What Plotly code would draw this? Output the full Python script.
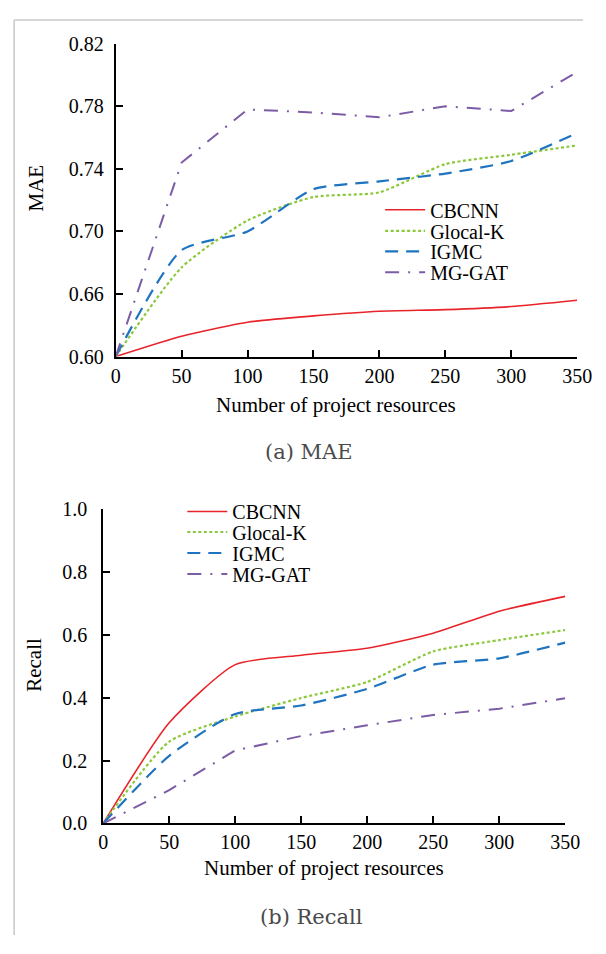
import plotly.graph_objects as go

W, H = 590, 938

# ---------------- data ----------------
x_res = [0, 50, 100, 150, 200, 250, 300, 350]
series_names = ["CBCNN", "Glocal-K", "IGMC", "MG-GAT"]

# (a) MAE  (plotted on a linear scale whose bottom tick is labelled 0.60)
mae_cbcnn = [0.620, 0.633, 0.642, 0.646, 0.649, 0.650, 0.652, 0.656]
mae_glocal = [0.620, 0.677, 0.707, 0.722, 0.725, 0.743, 0.749, 0.755]
mae_igmc = [0.620, 0.688, 0.700, 0.727, 0.732, 0.737, 0.745, 0.763]
mae_mggat = [0.620, 0.744, 0.778, 0.776, 0.773, 0.780, 0.777, 0.802]

mae_tickvals = [0.62, 0.66, 0.70, 0.74, 0.78, 0.82]
mae_ticktext = ["0.60", "0.66", "0.70", "0.74", "0.78", "0.82"]

# (b) Recall
rec_cbcnn = [0.0, 0.32, 0.505, 0.535, 0.557, 0.605, 0.675, 0.722]
rec_glocal = [0.0, 0.26, 0.340, 0.399, 0.450, 0.547, 0.583, 0.615]
rec_igmc = [0.0, 0.215, 0.348, 0.375, 0.428, 0.505, 0.525, 0.575]
rec_mggat = [0.0, 0.106, 0.232, 0.278, 0.312, 0.345, 0.365, 0.398]

rec_tickvals = [0.0, 0.2, 0.4, 0.6, 0.8, 1.0]
rec_ticktext = ["0.0", "0.2", "0.4", "0.6", "0.8", "1.0"]

x_tickvals = [0, 50, 100, 150, 200, 250, 300, 350]

x_title = "Number of project resources"
captions = ["(a) MAE", "(b) Recall"]

# ---------------- styles ----------------
colors = ["#e8242a", "#8cc83c", "#1f74c0", "#7d5ca6"]
dashes = ["solid", "3px,2.5px", "13px,8px", "14px,9px,2px,9px"]
widths = [1.6, 2.2, 2.2, 2.0]
shapes_line = ["spline", "spline", "spline", "linear"]

SERIF = "Liberation Serif"


# map a target screen pixel to figure paper coordinates
def fx(p):
    return ((p - 5.5) / 0.967 - 8) / W


def fy(p):
    return 1 - ((p - 11.5) / 0.976 - 8) / H


fig = go.Figure()

mae_data = [mae_cbcnn, mae_glocal, mae_igmc, mae_mggat]
rec_data = [rec_cbcnn, rec_glocal, rec_igmc, rec_mggat]

legend_rows_top = [210, 231, 251.5, 272.5]
legend_rows_bot = [511.5, 532, 553, 574]

for i, name in enumerate(series_names):
    fig.add_trace(go.Scatter(
        x=x_res, y=mae_data[i], mode="lines", name=name,
        line=dict(color=colors[i], dash=dashes[i], width=widths[i],
                  shape=shapes_line[i], smoothing=0.6),
        xaxis="x", yaxis="y", legend="legend" if i == 0 else f"legend{i + 1}",
        showlegend=True))

for i, name in enumerate(series_names):
    fig.add_trace(go.Scatter(
        x=x_res, y=rec_data[i], mode="lines", name=name,
        line=dict(color=colors[i], dash=dashes[i], width=widths[i],
                  shape=shapes_line[i], smoothing=0.6),
        xaxis="x2", yaxis="y2", legend=f"legend{i + 5}", showlegend=True))

axis_common = dict(
    showgrid=False, zeroline=False, showline=True, linecolor="black",
    linewidth=2, ticks="inside", ticklen=7, tickwidth=2, tickcolor="black",
    tickfont=dict(family=SERIF, size=20, color="black"),
    mirror=False,
)

LEG_TEXT_OFF = 52 * 0.967  # screen px between legend box left and text


def legend_cfg(text_left, row):
    return dict(x=fx(text_left - LEG_TEXT_OFF), y=fy(row), xanchor="left",
                yanchor="middle", bgcolor="rgba(0,0,0,0)",
                font=dict(family=SERIF, size=20, color="black"),
                itemwidth=40, tracegroupgap=0)


legends = {}
for i in range(4):
    key = "legend" if i == 0 else f"legend{i + 1}"
    legends[key] = legend_cfg(431, legend_rows_top[i])
    legends[f"legend{i + 5}"] = legend_cfg(233, legend_rows_bot[i])

title_font = dict(family=SERIF, size=21, color="black")
cap_font = dict(family="DejaVu Serif", size=21, color="#4a4a4a")

fig.update_layout(
    width=W, height=H,
    margin=dict(l=0, r=0, t=0, b=0),
    paper_bgcolor="white", plot_bgcolor="white",
    font=dict(family=SERIF, color="black"),
    xaxis=dict(axis_common, domain=[fx(116), fx(578)], range=[0, 350],
               tickvals=x_tickvals, anchor="y"),
    yaxis=dict(axis_common, domain=[fy(356.7), fy(44)], range=[0.62, 0.82],
               tickvals=mae_tickvals, ticktext=mae_ticktext, anchor="x",
               ticklabelstandoff=6),
    xaxis2=dict(axis_common, domain=[fx(103.5), fx(566)], range=[0, 350],
                tickvals=x_tickvals, anchor="y2"),
    yaxis2=dict(axis_common, domain=[fy(823.3), fy(509)], range=[0, 1.0],
                tickvals=rec_tickvals, ticktext=rec_ticktext, anchor="x2",
                ticklabelstandoff=10),
    annotations=[
        dict(text=x_title, x=fx(337), y=fy(405), xref="paper", yref="paper",
             showarrow=False, font=title_font, xanchor="center", yanchor="middle"),
        dict(text=x_title, x=fx(325), y=fy(868), xref="paper", yref="paper",
             showarrow=False, font=title_font, xanchor="center", yanchor="middle"),
        dict(text="MAE", x=fx(36.5), y=fy(188.5), xref="paper", yref="paper",
             showarrow=False, font=title_font, textangle=-90,
             xanchor="center", yanchor="middle"),
        dict(text="Recall", x=fx(34), y=fy(665), xref="paper", yref="paper",
             showarrow=False, font=title_font, textangle=-90,
             xanchor="center", yanchor="middle"),
        dict(text=captions[0], x=fx(310), y=fy(452), xref="paper", yref="paper",
             showarrow=False, font=cap_font, xanchor="center", yanchor="middle"),
        dict(text=captions[1], x=fx(312), y=fy(917), xref="paper", yref="paper",
             showarrow=False, font=cap_font, xanchor="center", yanchor="middle"),
    ],
    shapes=[
        dict(type="line", xref="paper", yref="paper", x0=0.002, x1=0.002,
             y0=0, y1=0.999, line=dict(color="#c8c8c8", width=1.5)),
        dict(type="line", xref="paper", yref="paper", x0=0.002, x1=1,
             y0=0.999, y1=0.999, line=dict(color="#c8c8c8", width=1.5)),
    ],
    **legends,
)

fig.write_html("out.html")
